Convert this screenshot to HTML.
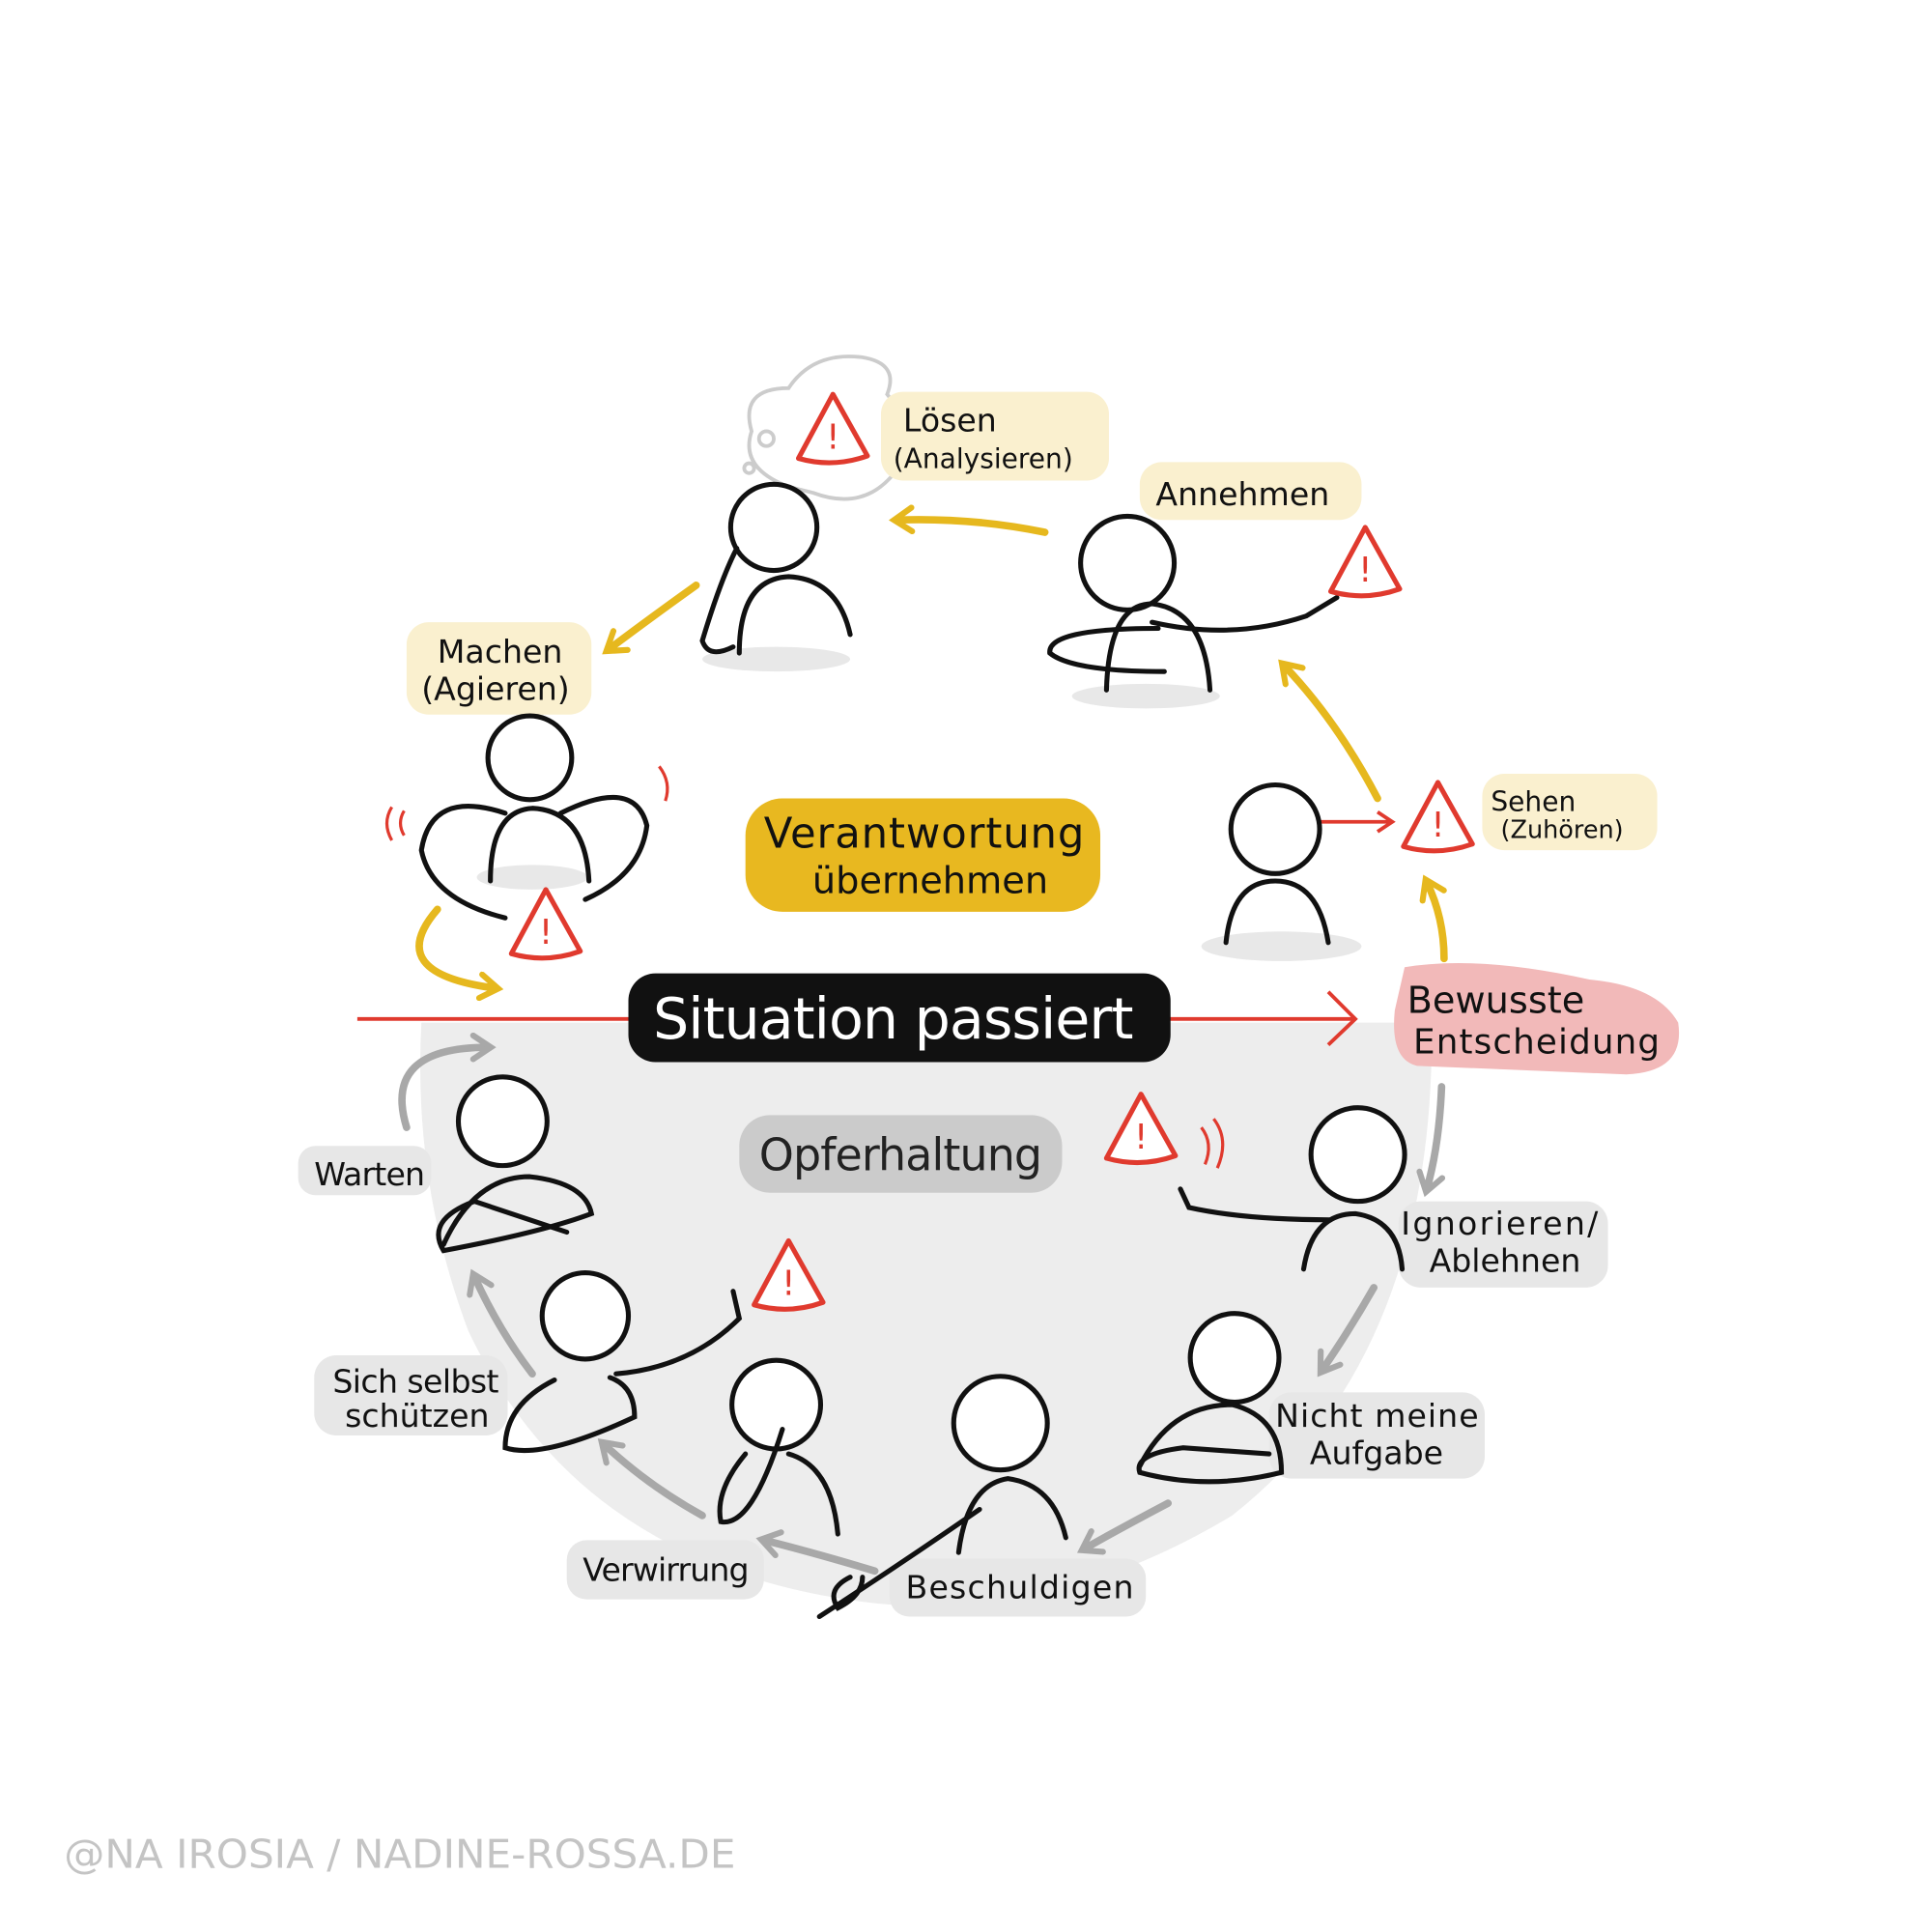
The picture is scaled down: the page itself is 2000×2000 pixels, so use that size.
<!DOCTYPE html>
<html><head><meta charset="utf-8"><style>
html,body{margin:0;padding:0;background:#fff}
svg{display:block}
text{font-family:"DejaVu Sans","Liberation Sans",sans-serif}
</style></head><body>
<svg width="2000" height="2000" viewBox="0 0 1568 1568" xmlns="http://www.w3.org/2000/svg">
<defs>
<marker id="ay" viewBox="0 0 10 10" refX="6" refY="5" markerWidth="4" markerHeight="4" orient="auto"><path d="M1,1 L7,5 L1,9" fill="none" stroke="#e6b81e" stroke-width="2" stroke-linecap="round"/></marker>
<marker id="ag" viewBox="0 0 10 10" refX="6" refY="5" markerWidth="4" markerHeight="4" orient="auto"><path d="M1,1 L7,5 L1,9" fill="none" stroke="#a8a8a8" stroke-width="2" stroke-linecap="round"/></marker>
<g id="tri"><path d="M0,-30 L-28,22 Q0,30 28,20 Z" fill="#fff" stroke="#e03a2e" stroke-width="4" stroke-linejoin="round"/><text x="0" y="14" font-size="28" fill="#e03a2e" text-anchor="middle">!</text></g>
</defs>
<rect width="1568" height="1568" fill="#fff"/>
<path d="M342,830 L1162,830 Q1165,1100 1000,1230 Q850,1320 700,1300 Q470,1270 380,1080 Q335,960 342,830 Z" fill="#ededed"/>
<g fill="#e8e8e8"><ellipse cx="630" cy="535" rx="60" ry="10"/><ellipse cx="930" cy="565" rx="60" ry="10"/><ellipse cx="1040" cy="768" rx="65" ry="12"/><ellipse cx="432" cy="712" rx="45" ry="10"/></g>
<path d="M640,395 Q600,380 610,350 Q600,315 640,315 Q660,285 700,290 Q730,295 720,320 Q745,350 725,385 Q700,415 660,400 Z" fill="#fff" stroke="#ccc" stroke-width="3"/>
<circle cx="622" cy="356" r="6" fill="#fff" stroke="#ccc" stroke-width="3"/><circle cx="608" cy="380" r="4" fill="#fff" stroke="#ccc" stroke-width="3"/>
<g fill="#faf0cf"><rect x="715" y="318" width="185" height="72" rx="18"/><rect x="925" y="375" width="180" height="47" rx="18"/><rect x="330" y="505" width="150" height="75" rx="18"/><rect x="1203" y="628" width="142" height="62" rx="18"/></g>
<g fill="#e7e7e7"><rect x="242" y="930" width="108" height="40" rx="14"/><rect x="255" y="1100" width="157" height="65" rx="18"/><rect x="460" y="1250" width="160" height="48" rx="16"/><rect x="722" y="1265" width="208" height="47" rx="16"/><rect x="1030" y="1130" width="175" height="70" rx="18"/><rect x="1135" y="975" width="170" height="70" rx="18"/></g>
<g font-size="26" fill="#111">
<text x="733" y="350">Lösen</text><text x="725" y="380" font-size="22">(Analysieren)</text>
<text x="938" y="410">Annehmen</text>
<text x="355" y="538">Machen</text><text x="342" y="568">(Agieren)</text>
<text x="1210" y="658" font-size="22">Sehen</text><text x="1218" y="680" font-size="20">(Zuhören)</text>
<text x="255" y="962" textLength="90">Warten</text>
<text x="270" y="1130" textLength="135">Sich selbst</text><text x="280" y="1158">schützen</text>
<text x="473" y="1283" textLength="135">Verwirrung</text>
<text x="735" y="1297" textLength="185">Beschuldigen</text>
<text x="1035" y="1158" textLength="165">Nicht meine</text><text x="1063" y="1188">Aufgabe</text>
<text x="1137" y="1002" textLength="160">Ignorieren/</text><text x="1160" y="1032">Ablehnen</text>
</g>
<line x1="290" y1="827" x2="1098" y2="827" stroke="#e03a2e" stroke-width="3"/>
<path d="M1078,805 L1100,827 L1078,848" fill="none" stroke="#e03a2e" stroke-width="3"/>
<rect x="510" y="790" width="440" height="72" rx="22" fill="#111"/>
<text x="725" y="843" font-size="46" fill="#fff" text-anchor="middle" textLength="390">Situation passiert</text>
<rect x="605" y="648" width="288" height="92" rx="30" fill="#e8b820"/>
<text x="750" y="688" font-size="34" fill="#111" text-anchor="middle" textLength="260">Verantwortung</text>
<text x="755" y="725" font-size="30" fill="#111" text-anchor="middle">übernehmen</text>
<rect x="600" y="905" width="262" height="63" rx="25" fill="#cbcbcb"/>
<text x="731" y="950" font-size="36" fill="#222" text-anchor="middle" textLength="230">Opferhaltung</text>
<path d="M1140,785 Q1200,775 1290,795 Q1345,800 1362,830 Q1368,870 1320,872 L1150,865 Q1128,860 1132,820 Z" fill="#f2b9b9"/>
<text x="1142" y="822" font-size="30" fill="#111">Bewusste</text><text x="1147" y="855" font-size="28" fill="#111" textLength="200">Entscheidung</text>
<g fill="none" stroke-width="6" stroke-linecap="round">
<path d="M848,432 Q790,420 728,422" stroke="#e6b81e" marker-end="url(#ay)"/>
<path d="M565,475 Q530,500 494,527" stroke="#e6b81e" marker-end="url(#ay)"/>
<path d="M355,738 Q310,790 402,802" stroke="#e6b81e" marker-end="url(#ay)"/>
<path d="M1118,648 Q1085,585 1042,540" stroke="#e6b81e" marker-end="url(#ay)"/>
<path d="M1172,778 Q1172,745 1158,716" stroke="#e6b81e" marker-end="url(#ay)"/>
<path d="M330,915 Q310,850 396,850" stroke="#a8a8a8" marker-end="url(#ag)"/>
<path d="M432,1115 Q405,1080 385,1036" stroke="#a8a8a8" marker-end="url(#ag)"/>
<path d="M570,1230 Q525,1205 490,1172" stroke="#a8a8a8" marker-end="url(#ag)"/>
<path d="M710,1275 Q660,1260 620,1250" stroke="#a8a8a8" marker-end="url(#ag)"/>
<path d="M948,1220 Q910,1240 880,1257" stroke="#a8a8a8" marker-end="url(#ag)"/>
<path d="M1115,1045 Q1095,1080 1073,1112" stroke="#a8a8a8" marker-end="url(#ag)"/>
<path d="M1170,882 Q1168,930 1158,965" stroke="#a8a8a8" marker-end="url(#ag)"/>
</g>
<line x1="1068" y1="667" x2="1128" y2="667" stroke="#e03a2e" stroke-width="3"/><path d="M1118,659 L1130,667 L1118,675" fill="none" stroke="#e03a2e" stroke-width="3"/>
<g fill="none" stroke="#111" stroke-width="4" stroke-linecap="round">
<circle cx="628" cy="428" r="35" fill="#fff"/><path d="M600,530 Q600,470 640,468 Q680,470 690,515"/><path d="M598,445 Q585,470 570,520 Q575,535 595,525"/>
<circle cx="915" cy="457" r="38" fill="#fff"/><path d="M898,560 Q900,490 935,490 Q978,495 982,560"/><path d="M935,505 Q1000,520 1060,500 L1085,485"/><path d="M940,510 Q850,510 852,530 Q870,545 945,545"/>
<circle cx="1035" cy="673" r="36" fill="#fff"/><path d="M995,765 Q1000,715 1035,715 Q1070,715 1078,765"/>
<circle cx="430" cy="615" r="34" fill="#fff"/><path d="M398,715 Q398,658 432,656 Q475,658 478,715"/><path d="M410,660 Q350,640 342,690 Q350,730 410,745"/><path d="M455,660 Q515,630 525,670 Q520,710 475,730"/>
<circle cx="408" cy="910" r="36" fill="#fff"/><path d="M360,1010 Q385,955 430,955 Q475,960 480,985 Q440,1000 360,1015 Q345,990 385,975 L460,1000"/>
<circle cx="475" cy="1068" r="35" fill="#fff"/><path d="M500,1115 Q560,1110 600,1070 L595,1048"/><path d="M450,1120 Q410,1140 410,1175 Q440,1185 515,1150 Q515,1125 495,1118"/>
<circle cx="630" cy="1140" r="36" fill="#fff"/><path d="M605,1180 Q580,1210 585,1235 Q610,1240 635,1160"/><path d="M640,1180 Q675,1190 680,1245"/>
<circle cx="812" cy="1155" r="38" fill="#fff"/><path d="M778,1260 Q785,1205 818,1200 Q855,1205 865,1248"/><path d="M795,1225 Q730,1270 665,1312"/><path d="M690,1280 Q670,1290 680,1305 Q700,1295 700,1280"/>
<circle cx="1002" cy="1102" r="36" fill="#fff"/><path d="M925,1190 Q950,1140 1000,1140 Q1040,1150 1040,1195 Q980,1210 925,1195 Q920,1180 960,1175 L1030,1180"/>
<circle cx="1102" cy="937" r="38" fill="#fff"/><path d="M1058,1030 Q1065,985 1100,985 Q1135,990 1138,1030"/><path d="M1080,990 Q1010,990 965,980 L958,965"/>
</g>
<use href="#tri" transform="translate(676,350)"/>
<use href="#tri" transform="translate(1108,458)"/>
<use href="#tri" transform="translate(1167,665)"/>
<use href="#tri" transform="translate(443,752)"/>
<use href="#tri" transform="translate(926,918)"/>
<use href="#tri" transform="translate(640,1037)"/>
<g fill="none" stroke="#e03a2e" stroke-width="2.5"><path d="M318,655 Q310,668 318,682"/><path d="M328,658 Q322,668 328,678"/><path d="M535,622 Q545,635 540,650"/><path d="M975,915 Q985,928 978,945"/><path d="M985,908 Q998,925 988,948"/></g>
<text x="52" y="1516" font-size="32" fill="#c4c4c4" textLength="545" lengthAdjust="spacingAndGlyphs">@NA IROSIA / NADINE-ROSSA.DE</text>
</svg>
</body></html>
